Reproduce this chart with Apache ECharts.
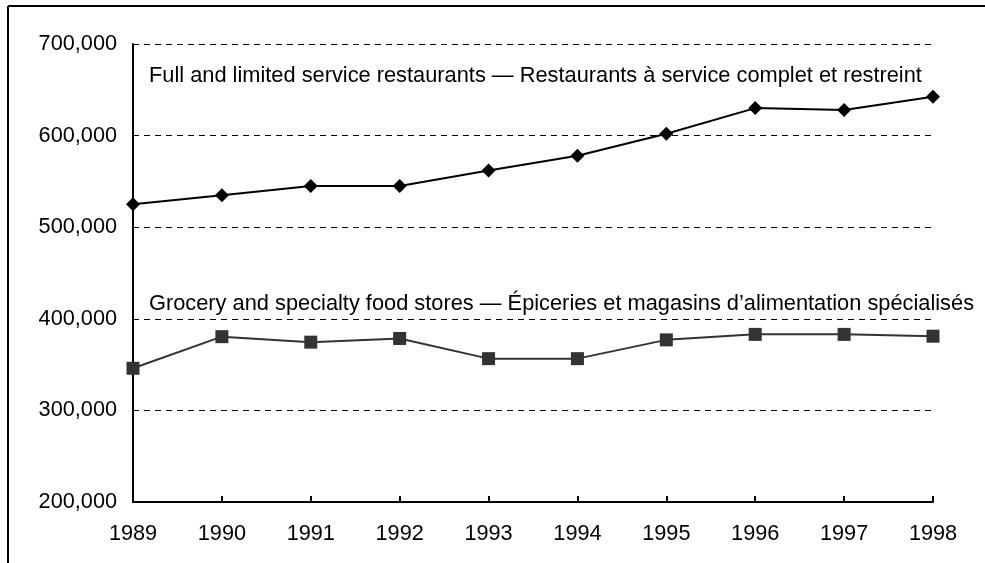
<!DOCTYPE html>
<html>
<head>
<meta charset="utf-8">
<script src="https://cdn.jsdelivr.net/npm/echarts@6/dist/echarts.min.js"></script>
<style>html,body{margin:0;padding:0;background:#fff}#c{width:985px;height:563px}</style>
</head>
<body>
<div id="c"></div>
<script>
const years = ['1989','1990','1991','1992','1993','1994','1995','1996','1997','1998'];
const restaurants = [525000, 535000, 545000, 545000, 562000, 578000, 602000, 630000, 628000, 642500];
const grocery = [346000, 380500, 374500, 378500, 356500, 356500, 377000, 383000, 383000, 381000];
const restaurantsLabel = 'Full and limited service restaurants — Restaurants à service complet et restreint';
const groceryLabel = 'Grocery and specialty food stores — Épiceries et magasins d’alimentation spécialisés';

const chart = echarts.init(document.getElementById('c'));
const font = '"Liberation Sans", Arial, sans-serif';
chart.setOption({
  animation: false,
  backgroundColor: '#fff',
  grid: { left: 133, right: 52, top: 44, bottom: 61, containLabel: false },
  xAxis: {
    type: 'category', data: years, boundaryGap: false,
    axisLine: { lineStyle: { color: '#000', width: 2 } },
    axisTick: { inside: true, length: 6, lineStyle: { color: '#000', width: 2 } },
    axisLabel: { color: '#000', fontSize: 21.7, fontFamily: font, margin: 21 },
    splitLine: { show: false }
  },
  yAxis: {
    type: 'value', min: 200000, max: 700000, interval: 100000,
    axisLine: { show: true, lineStyle: { color: '#000', width: 2 } },
    axisTick: { show: false },
    axisLabel: { color: '#000', fontSize: 21.7, fontFamily: font, margin: 16,
      formatter: v => v.toLocaleString('en-US') },
    splitLine: { show: true, lineStyle: { color: '#000', width: 1, type: [6, 5] } }
  },
  graphic: [
    { type: 'line', shape: { x1: 8, y1: 6, x2: 985, y2: 6 }, style: { stroke: '#000', lineWidth: 2 } },
    { type: 'line', shape: { x1: 8, y1: 6, x2: 8, y2: 563 }, style: { stroke: '#000', lineWidth: 2 } },
    { type: 'text', left: 149, top: 65, style: { text: restaurantsLabel, fill: '#000', font: '21.8px ' + font } },
    { type: 'text', left: 149, top: 293, style: { text: groceryLabel, fill: '#000', font: '21.8px ' + font } }
  ],
  series: [
    { type: 'line', data: restaurants, symbol: 'diamond', symbolSize: 14,
      itemStyle: { color: '#000' }, lineStyle: { color: '#000', width: 2 }, z: 3 },
    { type: 'line', data: grocery, symbol: 'rect', symbolSize: 13,
      itemStyle: { color: '#333' }, lineStyle: { color: '#333', width: 2 }, z: 3 }
  ]
});
</script>
</body>
</html>
